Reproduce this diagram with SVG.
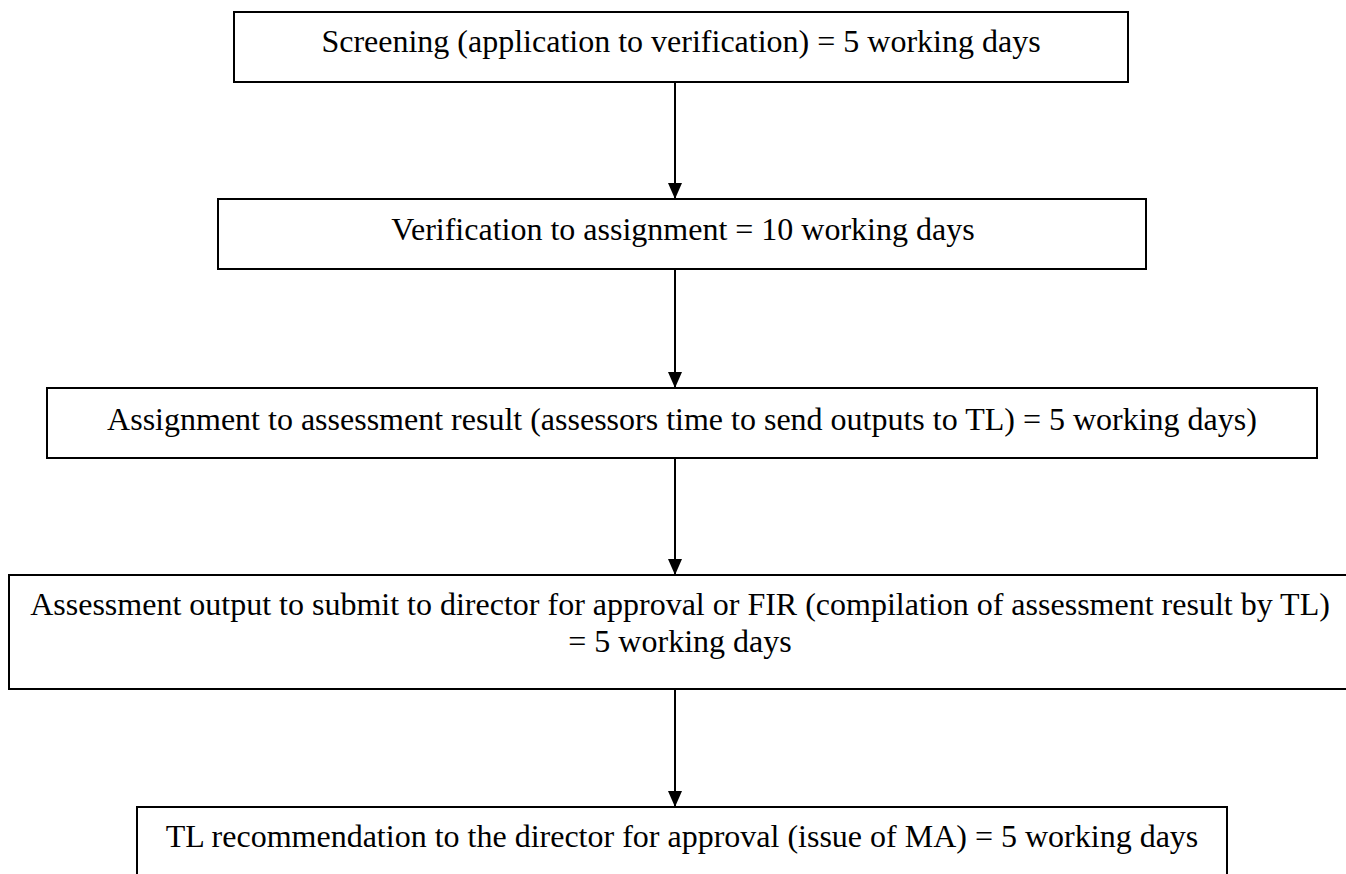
<svg xmlns="http://www.w3.org/2000/svg" width="1346" height="874" viewBox="0 0 1346 874">
<defs>
<style>
.box{fill:#fff;stroke:#000;stroke-width:2}
.t{font-family:"Liberation Serif","Times New Roman",serif;font-size:32px;fill:#000;text-anchor:middle}
.c{stroke:#000;stroke-width:2;fill:none}
</style>
<marker id="ah" viewBox="0 0 16 14" refX="16" refY="7" markerWidth="16" markerHeight="14" markerUnits="userSpaceOnUse" orient="auto">
<path d="M0,0 L16,7 L0,14 Z" fill="#000"/>
</marker>
</defs>
<rect width="1346" height="874" fill="#fff"/>
<g id="n1"><rect class="box" x="234" y="12" width="894" height="70"/><text class="t" x="681" y="52">Screening (application to verification) = 5 working days</text></g>
<g id="n2"><rect class="box" x="218" y="199" width="928" height="70"/><text class="t" x="683" y="240">Verification to assignment = 10 working days</text></g>
<g id="n3"><rect class="box" x="47" y="388" width="1270" height="70"/><text class="t" x="682" y="430">Assignment to assessment result (assessors time to send outputs to TL) = 5 working days)</text></g>
<g id="n4"><rect class="box" x="9" y="575" width="1342" height="114"/><text class="t" x="680" y="615">Assessment output to submit to director for approval or FIR (compilation of assessment result by TL)</text><text class="t" x="680" y="652">= 5 working days</text></g>
<g id="n5"><rect class="box" x="137" y="807" width="1090" height="80"/><text class="t" x="682" y="847">TL recommendation to the director for approval (issue of MA) = 5 working days</text></g>
<g id="edges">
<line class="c" x1="675" y1="83" x2="675" y2="199" marker-end="url(#ah)"/>
<line class="c" x1="675" y1="270" x2="675" y2="388" marker-end="url(#ah)"/>
<line class="c" x1="675" y1="459" x2="675" y2="575" marker-end="url(#ah)"/>
<line class="c" x1="675" y1="690" x2="675" y2="807" marker-end="url(#ah)"/>
</g>
</svg>
